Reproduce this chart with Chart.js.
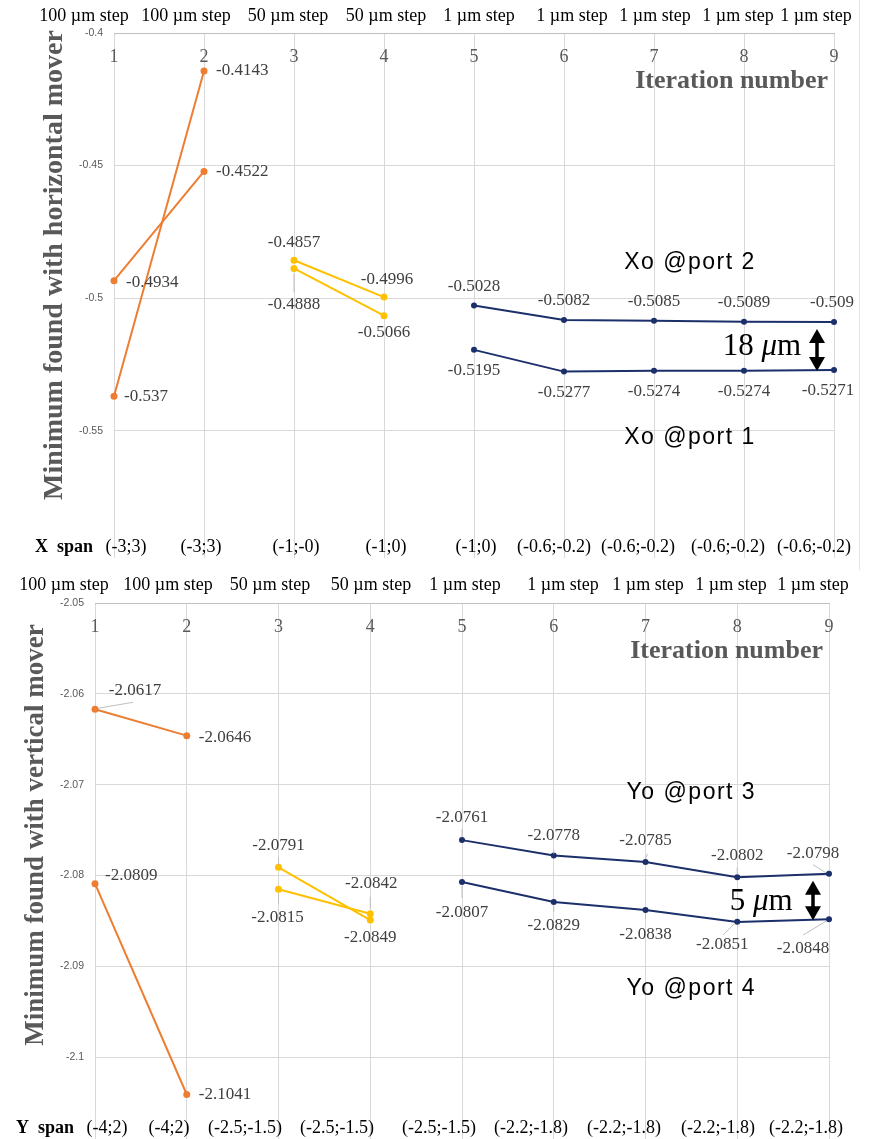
<!DOCTYPE html>
<html>
<head>
<meta charset="utf-8">
<script src="https://cdn.jsdelivr.net/npm/chart.js@4.4.1/dist/chart.umd.min.js"></script>
<style>
  html, body { margin: 0; padding: 0; background: #fff; width: 874px; height: 1139px; overflow: hidden; }
  canvas { position: absolute; left: 0; display: block; }
  #cTop { top: 0; }
  #cBottom { top: 570px; }
</style>
</head>
<body>
<canvas id="cTop" width="874" height="570"></canvas>
<canvas id="cBottom" width="874" height="569"></canvas>
<script>
// ---- data ----
const iterations = [1, 2, 3, 4, 5, 6, 7, 8, 9];
const stepLabels = ['100 µm step', '100 µm step', '50 µm step', '50 µm step',
  '1 µm step', '1 µm step', '1 µm step', '1 µm step', '1 µm step'];
const xSpans = ['(-3;3)', '(-3;3)', '(-1;-0)', '(-1;0)', '(-1;0)',
  '(-0.6;-0.2)', '(-0.6;-0.2)', '(-0.6;-0.2)', '(-0.6;-0.2)'];
const ySpans = ['(-4;2)', '(-4;2)', '(-2.5;-1.5)', '(-2.5;-1.5)', '(-2.5;-1.5)',
  '(-2.2;-1.8)', '(-2.2;-1.8)', '(-2.2;-1.8)', '(-2.2;-1.8)'];

// horizontal mover
const xCoarseA = [-0.4934, -0.4522];   // iterations 1-2
const xCoarseB = [-0.537, -0.4143];
const xMediumA = [-0.4857, -0.4996];   // iterations 3-4
const xMediumB = [-0.4888, -0.5066];
const xPort2 = [-0.5028, -0.5082, -0.5085, -0.5089, -0.509];   // iterations 5-9
const xPort1 = [-0.5195, -0.5277, -0.5274, -0.5274, -0.5271];
const xMoverTicks = [-0.55, -0.5, -0.45, -0.4];

// vertical mover
const yCoarseA = [-2.0617, -2.0646];
const yCoarseB = [-2.0809, -2.1041];
const yMediumA = [-2.0791, -2.0849];
const yMediumB = [-2.0815, -2.0842];
const yPort3 = [-2.0761, -2.0778, -2.0785, -2.0802, -2.0798];
const yPort4 = [-2.0807, -2.0829, -2.0838, -2.0851, -2.0848];
const yMoverTicks = [-2.1, -2.09, -2.08, -2.07, -2.06, -2.05];

// ---- styling ----
const SERIF = '"Liberation Serif", "Times New Roman", serif';
const SANS = '"Liberation Sans", Arial, sans-serif';
const ORANGE = '#ED7D31', GOLD = '#FFC000', NAVY = '#1B2F6B';
const GRID = '#d9d9d9', AXIS_TEXT = '#595959', LABEL_TEXT = '#404040';

// label placement per point: [dx, dy, align, optional leader [x1,y1,x2,y2]]
function series(xs, ys, color, radius, place) {
  return {
    data: ys.map((v, i) => ({ x: xs[i], y: v })),
    borderColor: color, backgroundColor: color,
    borderWidth: 2, pointRadius: radius, pointHoverRadius: radius,
    pointBorderWidth: 0, tension: 0, clip: false, place
  };
}

function drawArrow(ctx, x, y1, y2) {
  const hw = 8, hh = 14;
  ctx.save();
  ctx.fillStyle = '#000'; ctx.strokeStyle = '#000'; ctx.lineWidth = 3.5;
  ctx.beginPath(); ctx.moveTo(x, y1 + hh - 2); ctx.lineTo(x, y2 - hh + 2); ctx.stroke();
  ctx.beginPath(); ctx.moveTo(x, y1); ctx.lineTo(x - hw, y1 + hh); ctx.lineTo(x + hw, y1 + hh); ctx.closePath(); ctx.fill();
  ctx.beginPath(); ctx.moveTo(x, y2); ctx.lineTo(x - hw, y2 - hh); ctx.lineTo(x + hw, y2 - hh); ctx.closePath(); ctx.fill();
  ctx.restore();
}

function drawMicrons(ctx, num, cx, cy) {
  const size = 31;
  const parts = [[num + ' ', `${size}px ${SERIF}`], ['μ', `italic ${size}px ${SERIF}`], ['m', `${size}px ${SERIF}`]];
  let total = 0;
  parts.forEach(p => { ctx.font = p[1]; total += ctx.measureText(p[0]).width; });
  let x = cx - total / 2;
  ctx.fillStyle = '#000'; ctx.textAlign = 'left'; ctx.textBaseline = 'middle';
  parts.forEach(p => { ctx.font = p[1]; ctx.fillText(p[0], x, cy); x += ctx.measureText(p[0]).width; });
}

function decorPlugin(cfg) {
  return {
    id: 'panelDecor',
    afterDraw(chart) {
      const { ctx, chartArea: a, scales: { x, y } } = chart;
      ctx.save();
      ctx.textBaseline = 'middle';

      if (cfg.edgeLine) {
        ctx.strokeStyle = '#e4e4e4'; ctx.lineWidth = 1;
        ctx.beginPath(); ctx.moveTo(cfg.edgeLine + 0.5, 0); ctx.lineTo(cfg.edgeLine + 0.5, chart.height); ctx.stroke();
      }

      // step sizes above the axis
      ctx.font = `18px ${SERIF}`; ctx.fillStyle = '#000'; ctx.textAlign = 'center';
      stepLabels.forEach((t, i) => ctx.fillText(t, cfg.stepX[i], cfg.stepY));

      // span row
      ctx.font = `bold 18px ${SERIF}`; ctx.textAlign = 'left';
      ctx.fillText(cfg.spanTitle, cfg.spanTitleX, cfg.spanY);
      ctx.font = `18px ${SERIF}`; ctx.textAlign = 'center';
      cfg.spans.forEach((t, i) => ctx.fillText(t, cfg.spanX[i], cfg.spanY));

      // iteration numbers below the top axis line
      ctx.fillStyle = AXIS_TEXT;
      iterations.forEach(v => ctx.fillText(String(v), x.getPixelForValue(v), a.top + 24));
      ctx.font = `bold 26px ${SERIF}`; ctx.textAlign = 'right';
      ctx.fillText('Iteration number', a.right - 6, a.top + 48);

      // vertical axis title
      ctx.save();
      ctx.font = `bold ${cfg.yTitleSize}px ${SERIF}`;
      ctx.translate(cfg.yTitleX, cfg.yTitleY); ctx.rotate(-Math.PI / 2);
      ctx.textAlign = 'center'; ctx.fillText(cfg.yTitle, 0, 0);
      ctx.restore();

      // value labels
      ctx.font = `17px ${SERIF}`; ctx.fillStyle = LABEL_TEXT;
      chart.data.datasets.forEach((ds, di) => {
        chart.getDatasetMeta(di).data.forEach((pt, i) => {
          const [dx, dy, al, lead] = ds.place[i];
          if (lead) {
            ctx.strokeStyle = '#bfbfbf'; ctx.lineWidth = 1;
            ctx.beginPath();
            ctx.moveTo(pt.x + lead[0], pt.y + lead[1]);
            ctx.lineTo(pt.x + lead[2], pt.y + lead[3]);
            ctx.stroke();
          }
          ctx.textAlign = al;
          ctx.fillText(String(ds.data[i].y), pt.x + dx, pt.y + dy);
        });
      });

      // port captions
      ctx.font = `23px ${SANS}`; ctx.fillStyle = '#000'; ctx.textAlign = 'center';
      ctx.letterSpacing = '1.5px';
      cfg.ports.forEach(p => ctx.fillText(p.text, x.getPixelForValue(p.x), y.getPixelForValue(p.y)));
      ctx.letterSpacing = '0px';

      // separation between the two fine-step series at the last iteration
      const g = cfg.gap;
      drawMicrons(ctx, g.text, x.getPixelForValue(g.labelX), y.getPixelForValue(g.labelY));
      const ax = x.getPixelForValue(9) - g.arrowOffset;
      drawArrow(ctx, ax, y.getPixelForValue(g.upper) + 7, y.getPixelForValue(g.lower) + 1);

      ctx.restore();
    }
  };
}

function makeChart(canvasId, datasets, yMin, yMax, yTicks, axisLeft, padRight, padBottom, cfg) {
  return new Chart(document.getElementById(canvasId), {
    type: 'line',
    data: { datasets },
    options: {
      responsive: false, animation: false, devicePixelRatio: 1,
      layout: { autoPadding: false, padding: { top: 33, right: padRight, bottom: padBottom, left: 0 } },
      plugins: { legend: { display: false }, tooltip: { enabled: false } },
      scales: {
        x: {
          type: 'linear', position: 'top', min: 1, max: 9, bounds: 'data',
          afterBuildTicks: s => { s.ticks = iterations.map(v => ({ value: v })); },
          afterFit: s => { s.paddingLeft = 0; s.paddingRight = 0; },
          ticks: { display: false },
          grid: { color: GRID, lineWidth: 1, drawTicks: false },
          border: { color: '#bfbfbf', width: 1 }
        },
        y: {
          type: 'linear', min: yMin, max: yMax, bounds: 'data',
          afterBuildTicks: s => { s.ticks = yTicks.map(v => ({ value: v })); },
          afterFit: s => { s.width = axisLeft; s.paddingTop = 0; s.paddingBottom = 0; },
          ticks: { color: AXIS_TEXT, padding: 11, font: { family: SANS, size: 10.5 }, callback: v => String(v) },
          grid: { color: GRID, lineWidth: 1, drawTicks: false },
          border: { display: false }
        }
      }
    },
    plugins: [decorPlugin(cfg)]
  });
}

// ---- horizontal mover panel ----
makeChart('cTop', [
  series(iterations.slice(0, 2), xCoarseA, ORANGE, 3.5, [[12, 2, 'left'], [12, 0, 'left']]),
  series(iterations.slice(0, 2), xCoarseB, ORANGE, 3.5, [[10, 0, 'left'], [12, 0, 'left']]),
  series(iterations.slice(2, 4), xMediumA, GOLD, 3.5, [[0, -18, 'center'], [3, -18, 'center']]),
  series(iterations.slice(2, 4), xMediumB, GOLD, 3.5, [[0, 36, 'center', [0, 5, 0, 24]], [0, 17, 'center']]),
  series(iterations.slice(4), xPort2, NAVY, 3, [[0, -19, 'center'], [0, -19, 'center'], [0, -19, 'center'], [0, -19, 'center'], [-2, -19, 'center']]),
  series(iterations.slice(4), xPort1, NAVY, 3, [[0, 21, 'center'], [0, 21, 'center'], [0, 21, 'center'], [0, 21, 'center'], [-6, 21, 'center']])
], -0.598, -0.4, xMoverTicks, 114, 40, 12, {
  edgeLine: 859,
  stepX: [84, 186, 288, 386, 479, 572, 655, 738, 816], stepY: 16,
  spanTitle: 'X  span', spanTitleX: 35, spanY: 547,
  spans: xSpans, spanX: [126, 201, 296, 386, 476, 554, 638, 728, 814],
  yTitle: 'Minimum found with horizontal mover', yTitleSize: 28, yTitleX: 55, yTitleY: 265,
  ports: [{ text: 'Xo @port 2', x: 7.4, y: -0.4865 }, { text: 'Xo @port 1', x: 7.4, y: -0.5525 }],
  gap: { text: '18', labelX: 8.2, labelY: -0.5185, upper: -0.509, lower: -0.5271, arrowOffset: 17 }
});

// ---- vertical mover panel ----
makeChart('cBottom', [
  series(iterations.slice(0, 2), yCoarseA, ORANGE, 3.5, [[40, -19, 'center', [3, -1, 38, -7]], [12, 2, 'left']]),
  series(iterations.slice(0, 2), yCoarseB, ORANGE, 3.5, [[10, -8, 'left'], [12, 0, 'left']]),
  series(iterations.slice(2, 4), yMediumA, GOLD, 3.5, [[0, -22, 'center', [0, -3, 0, -10]], [0, 17, 'center']]),
  series(iterations.slice(2, 4), yMediumB, GOLD, 3.5, [[-1, 28, 'center', [0, 4, 0, 15]], [1, -30, 'center', [0, -5, 0, -17]]]),
  series(iterations.slice(4), yPort3, NAVY, 3, [[0, -23, 'center', [0, -3, 0, -11]], [0, -20, 'center', [0, -2, 0, -6]], [0, -21, 'center', [0, -3, 2, -8]], [0, -22, 'center', [0, -3, 0, -10]], [-16, -20, 'center', [-3, -1, -16, -9]]]),
  series(iterations.slice(4), yPort4, NAVY, 3, [[0, 31, 'center', [0, 4, 0, 16]], [0, 24, 'center', [0, 3, 0, 10]], [0, 24, 'center', [0, 3, 0, 9]], [-15, 23, 'center', [-3, 2, -14, 13]], [-26, 29, 'center', [-3, 2, -26, 16]]])
], -2.109, -2.05, yMoverTicks, 95, 45, 0, {
  edgeLine: 0,
  stepX: [64, 168, 270, 371, 465, 563, 648, 731, 813], stepY: 15,
  spanTitle: 'Y  span', spanTitleX: 16, spanY: 558,
  spans: ySpans, spanX: [107, 169, 245, 337, 439, 531, 624, 718, 806],
  yTitle: 'Minimum found with vertical mover', yTitleSize: 27, yTitleX: 36, yTitleY: 265,
  ports: [{ text: 'Yo @port 3', x: 7.5, y: -2.0709 }, { text: 'Yo @port 4', x: 7.5, y: -2.0924 }],
  gap: { text: '5', labelX: 8.26, labelY: -2.0829, upper: -2.0798, lower: -2.0848, arrowOffset: 16 }
});
</script>
</body>
</html>
